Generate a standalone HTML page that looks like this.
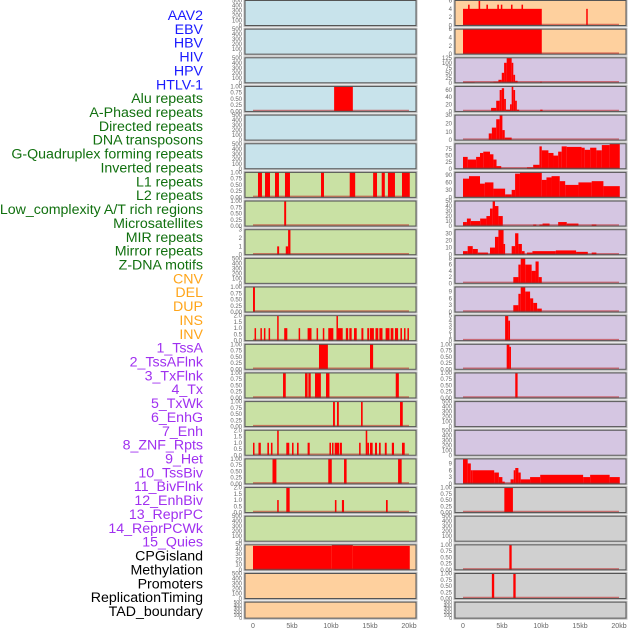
<!DOCTYPE html>
<html><head><meta charset="utf-8"><style>
html,body{margin:0;padding:0;background:#fff;width:630px;height:630px;overflow:hidden}
svg{display:block;font-family:"Liberation Sans",sans-serif}
</style></head><body>
<svg id="chart" width="630" height="630" viewBox="0 0 630 630" xmlns="http://www.w3.org/2000/svg">
<g id="labels"></g>
<g id="panels"></g>
<g id="xaxes"></g>
</svg>
<script>
// ---- data ----
const trackNames = ["AAV2","EBV","HBV","HIV","HPV","HTLV-1","Alu repeats","A-Phased repeats","Directed repeats","DNA transposons","G-Quadruplex forming repeats","Inverted repeats","L1 repeats","L2 repeats","Low_complexity A/T rich regions","Microsatellites","MIR repeats","Mirror repeats","Z-DNA motifs","CNV","DEL","DUP","INS","INV","1_TssA","2_TssAFlnk","3_TxFlnk","4_Tx","5_TxWk","6_EnhG","7_Enh","8_ZNF_Rpts","9_Het","10_TssBiv","11_BivFlnk","12_EnhBiv","13_ReprPC","14_ReprPCWk","15_Quies","CPGisland","Methylation","Promoters","ReplicationTiming","TAD_boundary"];
const trackColors = ["#1a1aff","#1a1aff","#1a1aff","#1a1aff","#1a1aff","#1a1aff","#11700f","#11700f","#11700f","#11700f","#11700f","#11700f","#11700f","#11700f","#11700f","#11700f","#11700f","#11700f","#11700f","#ffa51a","#ffa51a","#ffa51a","#ffa51a","#ffa51a","#a030f0","#a030f0","#a030f0","#a030f0","#a030f0","#a030f0","#a030f0","#a030f0","#a030f0","#a030f0","#a030f0","#a030f0","#a030f0","#a030f0","#a030f0","#000","#000","#000","#000","#000"];
const xTicks = [0,5,10,15,20];
const xTickLabels = ["0","5kb","10kb","15kb","20kb"];
const tEmpty = [0,100,200,300,400,500];
const tOne = ["0.00","0.25","0.50","0.75","1.00"];
const tTwo = ["0.0","0.5","1.0","1.5","2.0"];
// left column steps [startKb, endKb, value]
const L04 = [[10.4,12.8,1]];
const L07 = [[0.64,1.15,1],[1.54,2.18,1],[2.82,3.33,1],[4.1,4.74,1],[8.72,9.1,1],[12.4,13.1,1],[15.4,15.9,1],[16.5,16.9,1],[17.3,18.2,1],[19.1,20.1,1]];
const L08 = [[4.0,4.25,1]];
const L09 = [[3.1,3.35,1],[4.2,4.5,1],[4.5,4.8,3]];
const L11 = [[0,0.25,1]];
const L12 = [[0.2,0.35,1],[0.95,1.1,1],[1.4,1.55,1],[2.0,2.15,1],[3.1,3.25,2],[4.0,4.4,1],[5.85,6.0,1],[7.0,7.5,1],[8.15,8.3,1],[8.95,9.1,1],[9.65,10.3,1],[10.7,10.85,2],[10.85,11.5,1],[11.9,12.2,1],[12.35,12.65,1],[12.95,13.3,1],[13.9,14.15,1],[14.65,14.9,1],[15.0,15.5,1],[15.7,16.06,1],[16.2,16.6,1],[17.0,17.5,1],[17.65,18.0,1],[18.2,18.6,1],[18.9,19.1,1],[19.36,19.5,1],[19.8,19.96,1]];
const L13 = [[8.46,9.6,1],[15.0,15.4,1]];
const L14 = [[3.85,4.2,1],[6.67,7.0,1],[7.1,7.4,1],[7.95,8.7,1],[9.36,9.8,1],[18.3,18.7,1]];
const L15 = [[10.26,10.5,1],[10.77,11.0,1],[13.85,14.06,1],[18.85,19.2,1]];
const L16 = [[0,0.1,1],[0.7,1.0,1],[1.84,2.05,1],[2.3,2.5,1],[3.1,3.3,2],[4.27,4.65,1],[5.0,5.2,1],[5.64,5.85,1],[7.0,7.27,1],[9.8,10.0,1],[10.13,10.3,1],[10.47,11.06,1],[11.15,11.4,1],[13.6,13.8,1],[14.45,14.65,2],[14.65,14.87,1],[15.0,15.34,1],[15.64,15.9,1],[16.15,16.37,1],[16.9,17.14,1],[17.8,18.08,1],[19.1,19.45,1]];
const L17 = [[2.5,3.0,1],[9.65,10.1,1],[11.67,12.0,1],[18.6,19.06,1]];
const L18 = [[3.1,3.3,1],[4.27,4.7,2],[10.5,10.7,1],[11.4,11.67,1],[17.05,17.27,1]];
const L20 = [[0,10.1,46],[10.1,12.8,48],[12.8,20.1,46]];
// right column steps
const R01 = [[0,10.1,4],[0.65,0.85,5],[2.0,2.2,6],[3.0,3.2,5],[4.4,4.6,5],[4.85,5.0,5],[6.15,6.35,5],[7.5,7.7,5],[10.1,20,0.1],[15.8,15.95,4]];
const R02 = [[0,10.1,6],[10.1,20,0.1]];
const R03 = [[0,1.5,3],[3.46,3.9,3],[3.9,4.54,5],[4.54,4.97,15],[4.97,5.27,50],[5.27,5.6,100],[5.6,6.24,125],[6.24,6.45,100],[6.45,6.68,40],[6.68,7.0,10],[9.9,10.1,5]];
const R04 = [[3.6,4.26,10],[4.26,4.7,30],[4.7,4.97,60],[4.97,5.27,65],[5.27,5.5,35],[5.5,6.03,5],[6.03,6.24,20],[6.24,6.45,70],[6.45,6.68,60],[6.68,6.9,30],[6.9,7.2,5],[9.9,10.2,5]];
const R05 = [[3.3,3.7,8],[3.7,4.26,15],[4.26,4.7,25],[4.7,5.05,30],[5.05,5.35,12],[5.35,6.24,3]];
const R06 = [[0,0.6,45],[0.6,1.68,35],[1.68,2.18,45],[2.18,2.6,60],[2.6,3.46,65],[3.46,3.9,55],[3.9,4.3,35],[4.3,4.9,10],[4.9,8.2,0.5],[8.2,9.0,5],[9.0,9.8,15],[9.8,10.1,85],[10.1,10.95,70],[10.95,11.6,60],[11.6,12.2,50],[12.2,12.65,65],[12.65,13.3,85],[13.3,15.2,83],[15.2,15.6,80],[15.6,16.3,72],[16.3,17.1,80],[17.1,17.8,70],[17.8,18.8,90],[18.8,20.1,95]];
const R07 = [[0,0.77,75],[0.77,2.18,85],[2.18,2.8,55],[2.8,3.9,60],[3.9,5.4,35],[5.4,6.24,12],[6.24,6.68,30],[6.68,7.3,95],[7.3,10.1,100],[10.1,10.7,70],[10.7,11.35,80],[11.35,12.4,85],[12.4,13.1,65],[13.1,14.8,50],[14.8,16.5,60],[16.5,18.0,65],[18.0,20.1,45]];
const R08 = [[0,0.5,8],[0.5,1.0,15],[1.0,2.2,10],[2.2,3.0,15],[3.0,3.46,20],[3.46,3.8,35],[3.8,4.1,50],[4.1,4.54,40],[4.54,5.1,20],[9.0,9.4,3],[9.8,10.2,3],[10.2,11.1,5],[12.2,13.3,8],[13.3,14.8,5],[16.5,17.1,3]];
const R09 = [[0,0.6,5],[0.6,1.25,12],[1.25,1.9,8],[1.9,3.2,3],[3.46,4.1,10],[4.1,4.54,25],[4.54,5.2,35],[5.2,5.4,15],[6.24,6.68,12],[6.68,7.1,30],[7.1,7.55,15],[7.55,7.9,5],[8.2,8.9,3],[8.9,11.9,5],[11.9,14.5,6],[14.5,16.0,4],[16.5,17.1,3]];
const R10 = [[6.45,7.1,2],[7.1,7.4,6],[7.4,7.98,8],[7.98,8.8,6],[8.8,9.3,4],[9.3,9.7,7],[9.7,10.1,2]];
const R11 = [[6.45,7.1,3],[7.1,7.4,8],[7.4,7.98,11],[7.98,8.6,9],[8.6,9.0,6],[9.0,9.5,4],[9.5,10.1,1.5]];
const R12 = [[5.4,5.8,5],[5.8,6.03,4]];
const R13 = [[5.6,5.95,1],[5.95,6.15,0.9]];
const R14 = [[6.7,7.0,1]];
const R17 = [[0,0.6,11],[0.6,1.0,9],[1.0,1.25,6],[1.25,4.0,6],[4.0,4.6,5],[4.6,5.05,3],[5.05,5.35,1],[5.35,6.1,0.1],[6.1,6.5,2],[6.5,6.7,6],[6.7,7.1,7],[7.1,7.4,5],[7.4,8.6,2],[8.6,9.9,3],[9.9,15.4,4],[15.4,16.3,3],[16.3,18.8,4],[18.8,20.1,3]];
const R18 = [[5.3,6.4,1]];
const R20 = [[5.94,6.24,1]];
const R21 = [[3.7,4.0,1],[6.45,6.75,1]];
// panel configs: data, y ticks (values), tick labels, background
const BL="#c8e3eb", GR="#c9e1a4", OR="#fed09e", PU="#d5c6e2", GY="#d0d0d0";
const leftPanels = [
 [null,tEmpty,null,BL],[null,tEmpty,null,BL],[null,tEmpty,null,BL],[L04,[0,.25,.5,.75,1],tOne,BL],[null,tEmpty,null,BL],[null,tEmpty,null,BL],
 [L07,[0,.25,.5,.75,1],tOne,GR],[L08,[0,.25,.5,.75,1],tOne,GR],[L09,[0,1,2,3],null,GR],[null,tEmpty,null,GR],[L11,[0,.25,.5,.75,1],tOne,GR],
 [L12,[0,.5,1,1.5,2],tTwo,GR],[L13,[0,.25,.5,.75,1],tOne,GR],[L14,[0,.25,.5,.75,1],tOne,GR],[L15,[0,.25,.5,.75,1],tOne,GR],[L16,[0,.5,1,1.5,2],tTwo,GR],
 [L17,[0,.25,.5,.75,1],tOne,GR],[L18,[0,.5,1,1.5,2],tTwo,GR],[null,tEmpty,null,GR],[L20,[0,10,20,30,40,50],null,OR],[null,tEmpty,null,OR],[null,tEmpty,null,OR]];
const rightPanels = [
 [R01,[0,2,4,6],null,OR],[R02,[0,2,4,6],null,OR],[R03,[0,25,50,75,100,125],null,PU],[R04,[0,20,40,60],null,PU],[R05,[0,10,20,30],null,PU],
 [R06,[0,25,50,75],null,PU],[R07,[0,30,60,90],null,PU],[R08,[0,10,20,30,40,50],null,PU],[R09,[0,10,20,30],null,PU],[R10,[0,2,4,6,8],null,PU],
 [R11,[0,3,6,9],null,PU],[R12,[0,1,2,3,4,5],null,PU],[R13,[0,.25,.5,.75,1],tOne,PU],[R14,[0,.25,.5,.75,1],tOne,PU],[null,tEmpty,null,PU],[null,tEmpty,null,PU],
 [R17,[0,3,6,9],null,PU],[R18,[0,.25,.5,.75,1],tOne,GY],[null,tEmpty,null,GY],[R20,[0,.25,.5,.75,1],tOne,GY],[R21,[0,.25,.5,.75,1],tOne,GY],[null,tEmpty,null,GY]];

// ---- rendering ----
const NS="http://www.w3.org/2000/svg";
function mk(tag,attrs,parent){const e=document.createElementNS(NS,tag);for(const k in attrs)e.setAttribute(k,attrs[k]);parent.appendChild(e);return e;}
const labG=document.getElementById('labels');
trackNames.forEach((n,i)=>{
  const t=mk('text',{x:203,y:20+i*13.86,'text-anchor':'end','font-size':14.2,fill:trackColors[i]},labG);
  
  
  t.textContent=n;
});
const panG=document.getElementById('panels');
function drawColumn(panels,px,side){
  const pw=171;
  panels.forEach((p,i)=>{
    const [data,ticks,tlabels,bg]=p;
    const top=0.5+i*28.65, h=(i===21?16:25);
    const g=mk('g',{},panG);
    
    
    mk('rect',{x:px-1,y:top-1,width:pw+2,height:h+2,fill:'none',stroke:'#bbb','stroke-width':1},g);
    mk('rect',{x:px,y:top,width:pw,height:h,fill:bg},g);
    const ymax=data?Math.max(...data.map(d=>d[2])):ticks[ticks.length-1];
    const ys=v=>top+h-(v/ymax)*h;
    const xs=kb=>px+8+kb*7.8;
    ticks.forEach((v,k)=>{
      const t=mk('text',{x:px-3,y:ys(v)+2,'text-anchor':'end','font-size':(i===21?5:6),fill:'#666'},g);
      
      
      t.textContent=tlabels?tlabels[k]:String(v);
    });
    if(data){
      data.forEach(d=>{
        const r=mk('rect',{x:xs(d[0]),y:ys(d[2]),width:Math.max(1.5,xs(d[1])-xs(d[0])),height:top+h-ys(d[2]),fill:'#ff0000'},g);
        
        
      });
      const b=mk('line',{x1:xs(0),x2:xs(20),y1:top+h-1,y2:top+h-1,stroke:'rgba(190,30,30,0.55)','stroke-width':1.5},g);
      
      
    }
    mk('rect',{x:px,y:top,width:pw,height:h,fill:'none',stroke:'#555','stroke-width':1},g);
  });
  const ax=document.getElementById('xaxes');
  xTicks.forEach((v,k)=>{
    const t=mk('text',{x:px+8+v*7.8,y:628,'text-anchor':'middle','font-size':7,fill:'#666'},ax);
    
    
    t.textContent=xTickLabels[k];
  });
}
drawColumn(leftPanels,245,'left');
drawColumn(rightPanels,455,'right');
</script>
</body></html>
